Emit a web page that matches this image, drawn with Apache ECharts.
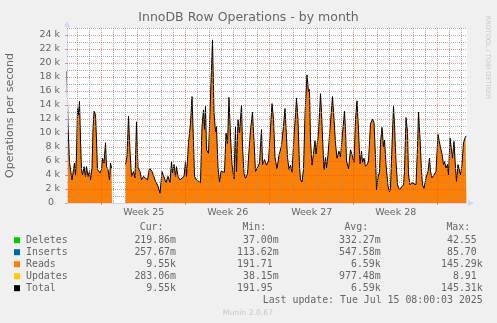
<!DOCTYPE html>
<html>
<head>
<meta charset="utf-8">
<script src="https://cdn.jsdelivr.net/npm/echarts@6/dist/echarts.min.js"></script>
<style>
  html, body { margin: 0; padding: 0; background: #F0F0F0; }
  #chart { width: 497px; height: 323px; }
</style>
</head>
<body>
<div id="chart"></div>
<script>
// Sample times, in hours since the start of the 800 h (2 h per column) window.
const hours = [
  0, 2, 5, 7, 10, 13, 15, 17, 19, 21, 23, 25, 27, 29, 31, 34, 37, 39, 42, 45,
  47, 50, 52, 54, 57, 59, 61, 63, 66, 69, 71, 74, 77, 79, 82, 85, 87, 89, 90,
  104,
  117, 120, 123, 126, 129, 133, 136, 139, 142, 146, 149, 153, 157, 161, 165, 170,
  177, 182, 186, 190, 194, 198, 202, 206, 209, 211, 214, 217, 219, 222, 226, 230,
  234, 237, 239, 243, 247, 250, 253, 255, 259, 263, 267, 270, 273, 275, 277, 279,
  283, 286, 289, 291, 294, 297, 299, 302, 305, 308, 311, 315, 318, 321, 324, 327,
  330, 334, 337, 339, 342, 345, 349, 351, 354, 357, 361, 365, 367, 371, 374, 377,
  380, 385, 389, 391, 395, 399, 403, 406, 410, 413, 416, 420, 424, 429, 433, 436,
  438, 441, 444, 447, 450, 454, 457, 459, 462, 465, 467, 470, 473, 476, 479, 480,
  483, 485, 487, 490, 493, 496, 498, 503, 507, 509, 511, 514, 517, 519, 522, 526,
  531, 534, 537, 540, 544, 547, 551, 555, 557, 559, 563, 567, 570, 574, 577, 580,
  583, 586, 589, 591, 594, 597, 601, 603, 607, 611, 614, 617, 619, 622, 625, 627,
  630, 633, 635, 638, 642, 645, 647, 650, 653, 655, 658, 661, 665, 669, 673, 675,
  678, 681, 683, 686, 690, 694, 698, 701, 703, 706, 709, 711, 714, 718, 722, 725,
  727, 730, 734, 738, 742, 745, 747, 750, 753, 755, 758, 761, 763, 766, 769, 771,
  774, 777, 779, 782, 785, 787, 790, 793, 795, 797, 799
];

// InnoDB rows read per second (null = no data collected).
const reads = [
  18800, 11000, 5800, 5700, 3300, 4800, 5700, 4000, 6700, 13600, 12600, 14500, 9000, 4800, 4000, 5200, 3800, 5200, 3800, 4500,
  3300, 5000, 10500, 13100, 12600, 9000, 4800, 4800, 4300, 4800, 6400, 5700, 8600, 5200, 4800, 3300, 5700, 5000, 5000,
  null,
  5500, 6700, 12400, 7400, 3800, 4500, 3600, 11600, 5000, 4500, 3300, 3800, 4000, 3300, 5000, 4500,
  3100, 2400, 1400, 4500, 4300, 2900, 3800, 2900, 5900, 4300, 5500, 3800, 5200, 3800, 3300, 3100,
  3800, 5900, 3800, 8600, 11400, 15200, 8600, 3800, 3300, 3100, 2900, 10900, 13300, 10500, 13800, 7600,
  7100, 13100, 12900, 23300, 12900, 10200, 10900, 5000, 3000, 4500, 4600, 4400, 10000, 8500, 15100, 9500,
  5500, 3400, 10900, 4500, 11900, 10000, 14000, 8100, 4200, 3500, 4200, 8500, 10400, 13000, 8800, 4500,
  4500, 5700, 10500, 5500, 6200, 5400, 6000, 9500, 14200, 12000, 6500, 4900, 6800, 8200, 11000, 13500,
  10800, 6500, 4800, 5400, 4400, 9600, 12600, 15000, 11800, 5200, 3300, 3000, 4800, 12600, 17100, 18300,
  15900, 16200, 9000, 5400, 7100, 8900, 7000, 10000, 15600, 13000, 9400, 4800, 6500, 5000, 6900, 10600,
  15200, 12000, 8500, 6400, 7400, 6600, 9900, 13100, 10500, 6000, 4900, 7600, 6900, 5800, 11900, 14600,
  10400, 5600, 7400, 5800, 6400, 5200, 5600, 6000, 11300, 12000, 11500, 6500, 1900, 3700, 4400, 8600,
  10800, 8000, 9000, 5500, 2400, 1600, 2100, 8300, 13800, 11200, 5900, 2600, 1900, 1900, 2600, 4500,
  12200, 10200, 4000, 2600, 2900, 3100, 2600, 7900, 13000, 9300, 4500, 2600, 2100, 3600, 4500, 6400,
  4500, 3600, 4000, 4500, 9800, 10000, 7900, 7000, 5500, 5900, 5000, 5500, 4000, 9300, 9500, 6400,
  8800, 5000, 3100, 5500, 5500, 4000, 5500, 8600, 8600, 9500, 9550
];

// Deletes, inserts and updates stay below one row per second, so the total
// follows the reads line.
const total = reads;

// Time grid: first midnight and the week boundaries, in hours since window start.
const windowHours = 800;
const firstMidnight = 21.4;
const weekStarts = [69.4, 237.4, 405.4, 573.4, 741.4];
const weekLabels = ['Week 25', 'Week 26', 'Week 27', 'Week 28'];

// Value grid and its labels.
const yMax = 25000;
const yLabelValues = [0, 2000, 4000, 6000, 8000, 10000, 12000, 14000, 16000, 18000, 20000, 22000, 24000];
const yMinorValues = [1000, 3000, 5000, 7000, 9000, 11000, 13000, 15000, 17000, 19000, 21000, 23000, 25000];

// Legend table.
const legendNames = ['Deletes', 'Inserts', 'Reads', 'Updates', 'Total'];
const legendColors = ['#00CC00', '#0066B3', '#FF8000', '#FFCC00', '#000000'];
const curVals = ['219.86m', '257.67m', '9.55k', '283.06m', '9.55k'];
const minVals = ['37.00m', '113.62m', '191.71', '38.15m', '191.95'];
const avgVals = ['332.27m', '547.58m', '6.59k', '977.48m', '6.59k'];
const maxVals = ['42.55', '85.70', '145.29k', '8.91', '145.31k'];
const columnHeads = ['Cur:', 'Min:', 'Avg:', 'Max:'];
const lastUpdate = 'Last update: Tue Jul 15 08:00:03 2025';

const FONT = '#666666';
const AXIS = '#CFD6F8';
const GRID_MINOR = 'rgba(143,143,143,0.75)';
const GRID_MAJOR = 'rgba(222,79,79,0.6)';
const SANS = 'DejaVu Sans';
const MONO = 'DejaVu Sans Mono';

const dayLines = [];
for (let t = firstMidnight; t < windowHours; t += 24) {
  if (!weekStarts.some(w => Math.abs(w - t) < 0.01)) dayLines.push(+t.toFixed(1));
}
const weekCenters = weekLabels.map((_, i) => weekStarts[i] + 84);

const readsData = hours.map((h, i) => [h, reads[i]]);
const totalData = hours.map((h, i) => [h, total[i]]);

// Dotted grid, drawn over the graph like rrdtool does.
const dotted = color => ({ color: color, width: 1, type: [1, 1] });
const gridLines = []
  .concat(yMinorValues.map(v => ({ yAxis: v, lineStyle: dotted(GRID_MINOR) })))
  .concat(yLabelValues.filter(v => v > 0).map(v => ({ yAxis: v, lineStyle: dotted(GRID_MAJOR) })))
  .concat(dayLines.map(v => ({ xAxis: v, lineStyle: dotted(GRID_MINOR) })))
  .concat(weekStarts.map(v => ({ xAxis: v, lineStyle: dotted(GRID_MAJOR) })));

// Legend drawing
const graphics = [];
const colRight = [176, 278.7, 380.7, 482.7];
const headBase = 230.6, rowBase = 243.4, rowStep = 12, midShift = 3.2;
const pad = s => (/[a-z]$/i.test(s) ? s : s + ' ');
const monoFont = '9.9px "' + MONO + '"';
columnHeads.forEach((h, c) => {
  graphics.push({ type: 'text', x: colRight[c] - 12.5, y: headBase - midShift,
    style: { text: h, fill: FONT, font: monoFont, textAlign: 'right', textVerticalAlign: 'middle' } });
});
const cols = [curVals, minVals, avgVals, maxVals];
legendNames.forEach((name, r) => {
  const yc = rowBase + r * rowStep - midShift;
  graphics.push({ type: 'rect', shape: { x: 14, y: yc - 3, width: 6, height: 6 }, style: { fill: legendColors[r] } });
  graphics.push({ type: 'text', x: 26, y: yc,
    style: { text: name, fill: FONT, font: monoFont, textAlign: 'left', textVerticalAlign: 'middle' } });
  cols.forEach((arr, c) => {
    graphics.push({ type: 'text', x: colRight[c], y: yc,
      style: { text: pad(arr[r]), fill: FONT, font: monoFont, textAlign: 'right', textVerticalAlign: 'middle' } });
  });
});
graphics.push({ type: 'text', x: 482.7, y: rowBase + 5 * rowStep - midShift,
  style: { text: lastUpdate, fill: FONT, font: monoFont, textAlign: 'right', textVerticalAlign: 'middle' } });
graphics.push({ type: 'text', x: 248.5, y: 18,
  style: { text: 'InnoDB Row Operations - by month', fill: FONT, font: '12.5px "' + SANS + '"', textAlign: 'center', textVerticalAlign: 'middle' } });
graphics.push({ type: 'text', x: 248, y: 313.3,
  style: { text: 'Munin 2.0.67', fill: '#C8C8C8', font: '7.7px "' + SANS + '"', textAlign: 'center', textVerticalAlign: 'middle' } });
graphics.push({ type: 'text', x: 488, y: 57.5, rotation: -Math.PI / 2,
  style: { text: 'RRDTOOL / TOBI OETIKER', fill: '#C8C8C8', font: '6.5px "' + SANS + '"', textAlign: 'center', textVerticalAlign: 'middle' } });

const chart = echarts.init(document.getElementById('chart'), null, { renderer: 'canvas' });
chart.setOption({
  animation: false,
  backgroundColor: '#F0F0F0',
  textStyle: { fontFamily: SANS },
  grid: {
    left: 67, top: 28, width: 400, height: 175,
    show: true, backgroundColor: '#FFFFFF', borderWidth: 0,
    containLabel: false, outerBoundsMode: 'none'
  },
  xAxis: {
    type: 'value', min: 0, max: windowHours, position: 'bottom', z: 4,
    axisLine: { show: true, onZero: false, lineStyle: { color: AXIS, width: 1 },
      symbol: ['none', 'triangle'], symbolSize: [6, 6], symbolOffset: [0, 4] },
    axisTick: { show: true, customValues: weekStarts, length: 2, lineStyle: { color: GRID_MAJOR } },
    axisLabel: {
      show: true, customValues: weekCenters, margin: 5,
      color: FONT, fontFamily: SANS, fontSize: 9.5,
      formatter: v => weekLabels[weekCenters.findIndex(c => Math.abs(c - v) < 0.01)] || ''
    },
    splitLine: { show: false }
  },
  yAxis: {
    type: 'value', min: 0, max: yMax, position: 'left', z: 4,
    name: 'Operations per second', nameLocation: 'middle', nameGap: 51, nameRotate: 90,
    nameTextStyle: { color: FONT, fontFamily: SANS, fontSize: 11 },
    axisLine: { show: true, onZero: false, lineStyle: { color: AXIS, width: 1 },
      symbol: ['none', 'triangle'], symbolSize: [6, 6], symbolOffset: [0, 4] },
    axisTick: { show: true, customValues: yLabelValues, length: 2, lineStyle: { color: GRID_MAJOR } },
    axisLabel: {
      show: true, customValues: yLabelValues, margin: 7,
      color: FONT, fontFamily: SANS, fontSize: 9.5,
      formatter: v => (v === 0 ? '0  ' : (v / 1000) + ' k')
    },
    splitLine: { show: false }
  },
  series: [
    {
      name: 'Reads', type: 'line', data: readsData,
      symbol: 'none', connectNulls: false, silent: true, z: 1,
      lineStyle: { width: 0, opacity: 0 },
      areaStyle: { color: '#FF8000', opacity: 1 }
    },
    {
      name: 'Total', type: 'line', data: totalData,
      symbol: 'none', connectNulls: false, silent: true, z: 2,
      lineStyle: { color: '#000000', width: 1 }
    },
    {
      name: 'grid', type: 'line', data: [], silent: true, z: 3,
      markLine: {
        silent: true, animation: false, symbol: ['none', 'none'],
        label: { show: false }, emphasis: { disabled: true },
        data: gridLines
      }
    }
  ],
  graphic: graphics
});
</script>
</body>
</html>
